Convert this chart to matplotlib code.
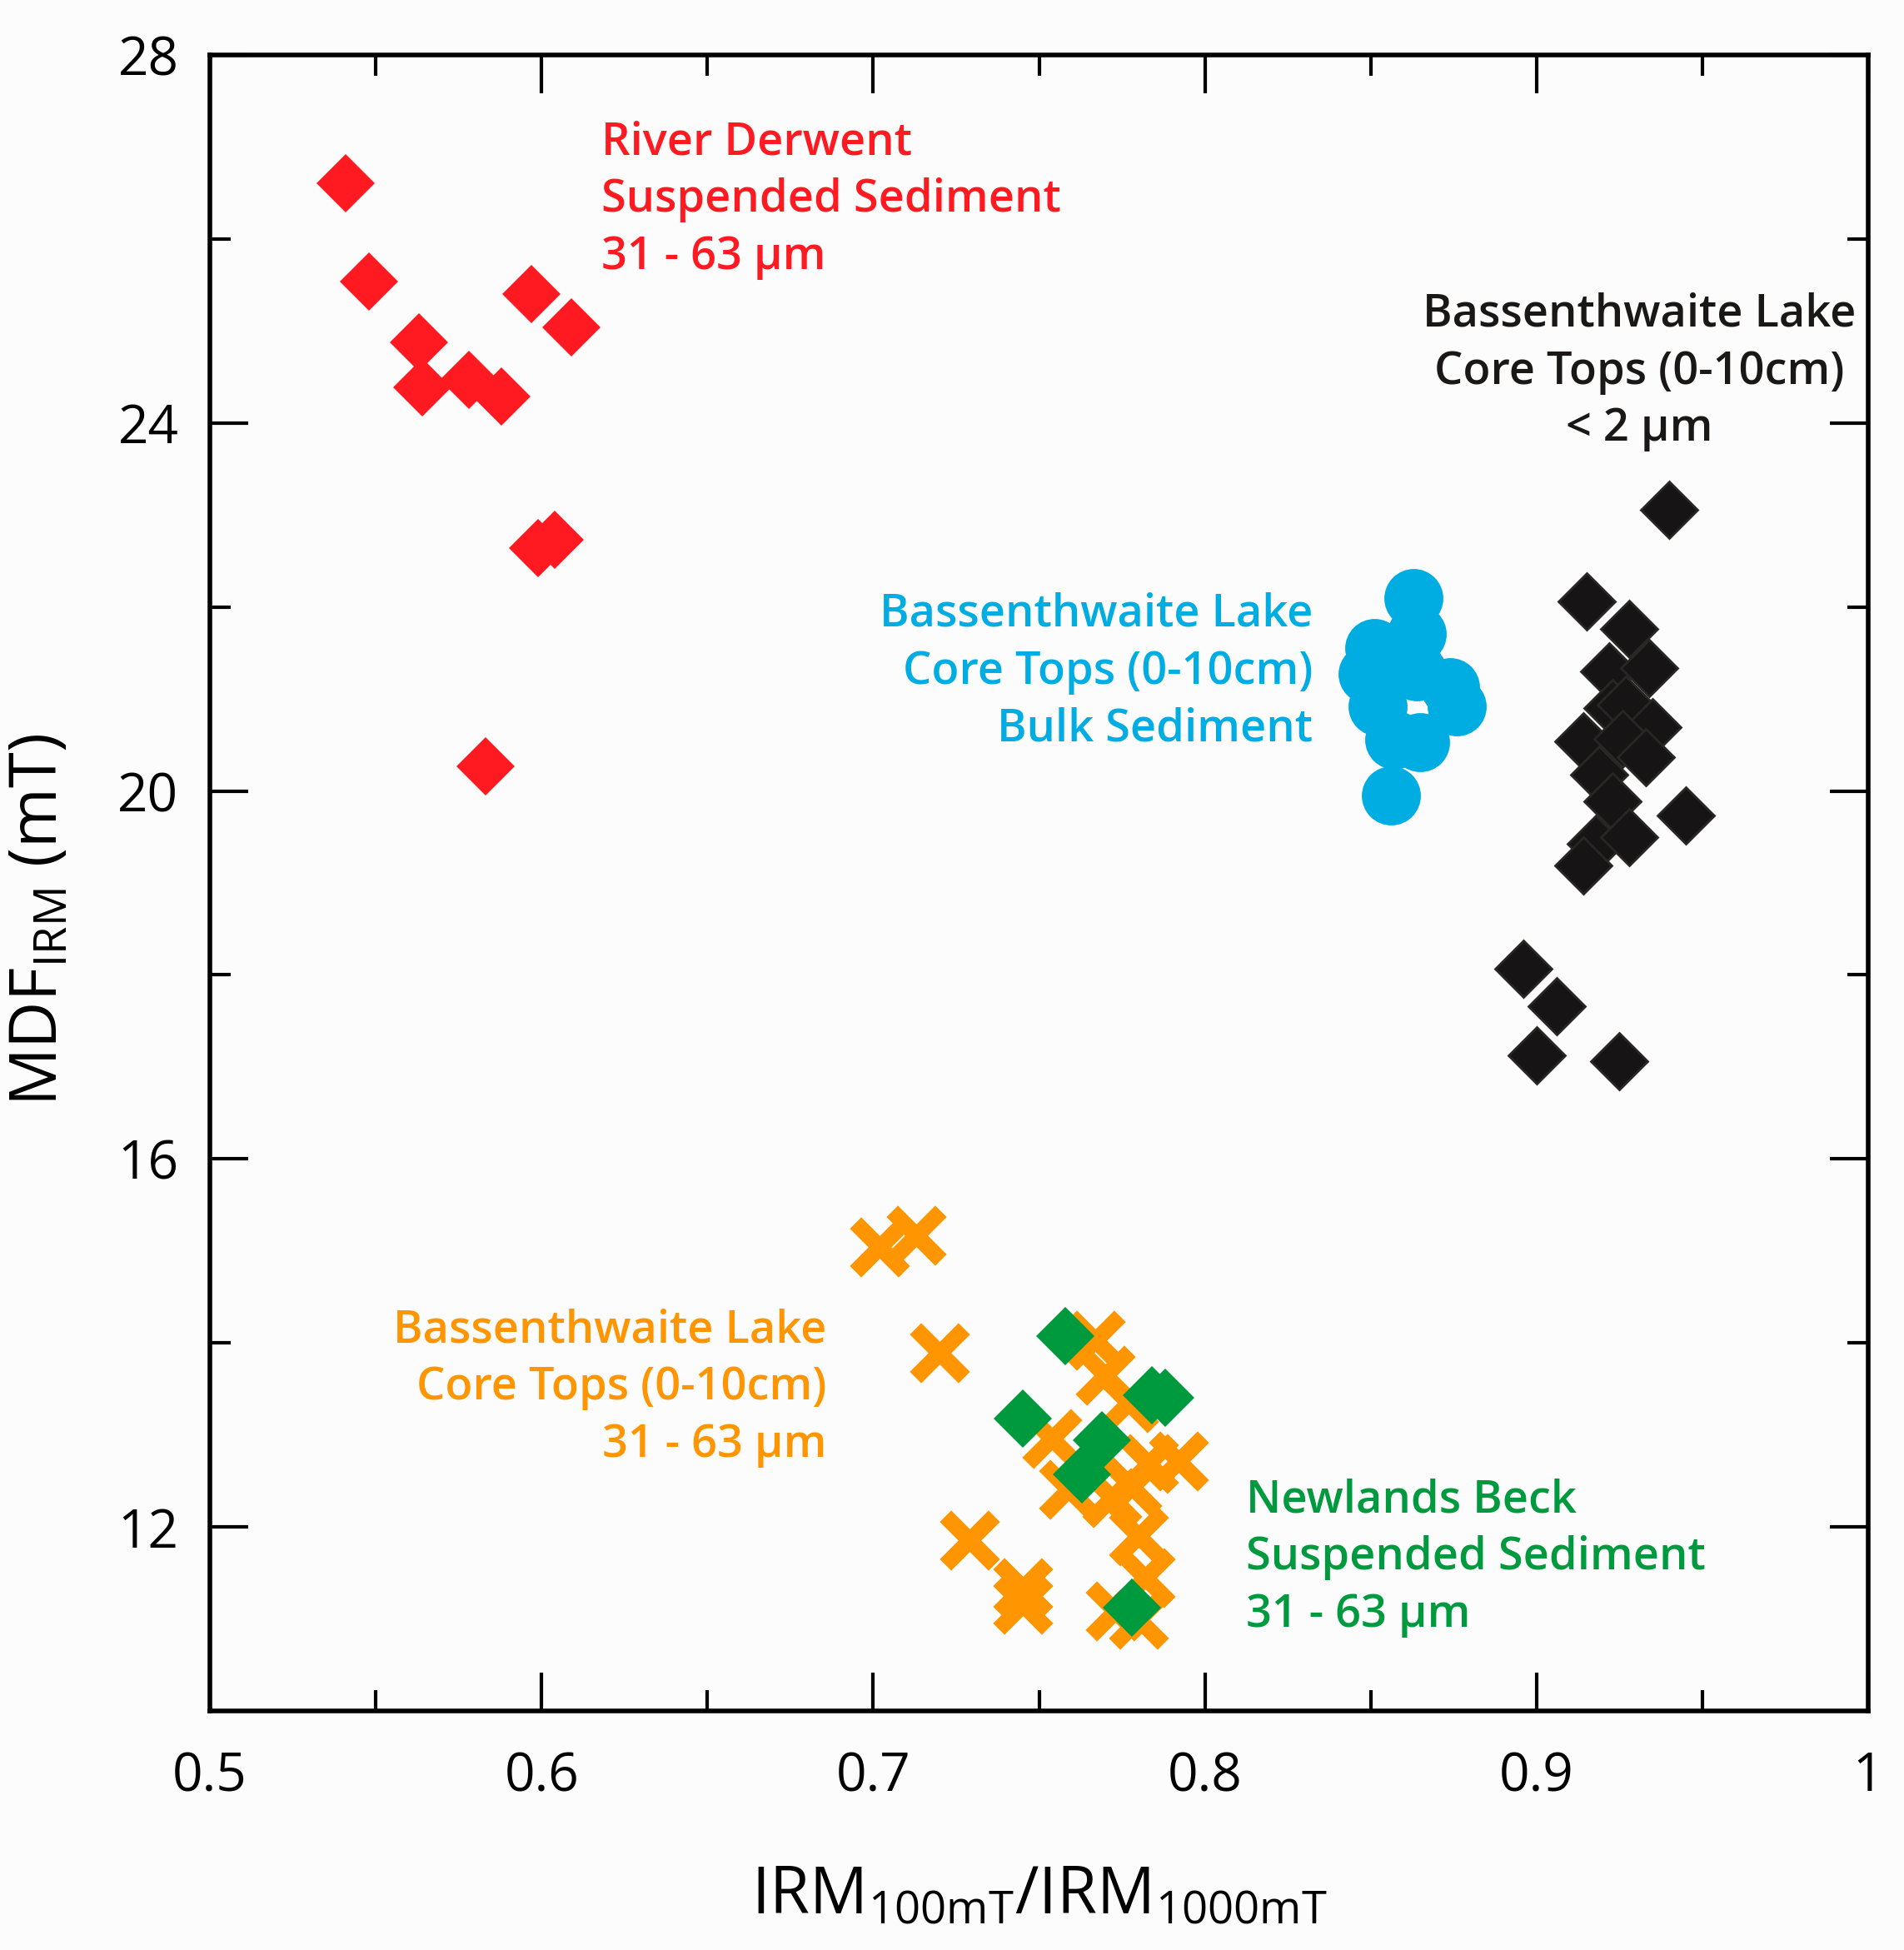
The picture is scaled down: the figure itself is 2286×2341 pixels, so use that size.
import numpy as np
import matplotlib.pyplot as plt
from matplotlib.path import Path

# river derwent suspended sediment 31-63 um
red_x = [0.541, 0.548, 0.563, 0.564, 0.578, 0.588, 0.597, 0.609, 0.599, 0.604, 0.583]
red_y = [26.61, 25.54, 24.88, 24.39, 24.47, 24.29, 25.40, 25.04, 22.64, 22.73, 20.27]

# bassenthwaite core tops < 2 um
blk_x = [0.940, 0.915, 0.928, 0.922, 0.934, 0.923, 0.927, 0.935, 0.914, 0.926,
         0.933, 0.919, 0.923, 0.945, 0.918, 0.928, 0.914, 0.896, 0.906, 0.900, 0.925]
blk_y = [23.06, 22.06, 21.76, 21.30, 21.34, 20.90, 20.94, 20.69, 20.54, 20.57,
         20.37, 20.18, 19.89, 19.73, 19.43, 19.50, 19.19, 18.07, 17.66, 17.13, 17.06]

# bassenthwaite core tops bulk
blu_x = [0.863, 0.864, 0.864, 0.851, 0.849, 0.852, 0.874, 0.876, 0.857, 0.865, 0.856]
blu_y = [22.10, 21.71, 21.30, 21.55, 21.27, 20.92, 21.13, 20.92, 20.56, 20.53, 19.95]

# bassenthwaite core tops 31-63 um
org_x = [0.702, 0.713, 0.720, 0.767, 0.770, 0.777, 0.754, 0.759, 0.772, 0.792,
         0.783, 0.778, 0.780, 0.782, 0.773, 0.780, 0.745, 0.745, 0.729]
org_y = [15.04, 15.17, 13.89, 14.03, 13.65, 13.35, 12.96, 12.41, 12.32, 12.72,
         12.69, 12.44, 11.90, 11.45, 11.09, 11.00, 11.34, 11.16, 11.86]

# newlands beck suspended sediment
grn_x = [0.758, 0.784, 0.788, 0.745, 0.769, 0.763, 0.778]
grn_y = [14.07, 13.43, 13.40, 13.18, 12.94, 12.57, 11.12]

# thinner filled x than matplotlib's 'X'
a, b = 0.31, 0.5
c = b - a
xverts = [(-a, -b), (0, -c), (a, -b), (b, -a), (c, 0), (b, a), (a, b),
          (0, c), (-a, b), (-b, a), (-c, 0), (-b, -a), (-a, -b)]
xmark = Path(xverts, [Path.MOVETO] + [Path.LINETO] * 11 + [Path.CLOSEPOLY])

plt.rcParams['font.family'] = ['Open Sans', 'DejaVu Sans']
plt.rcParams['mathtext.fontset'] = 'custom'
plt.rcParams['mathtext.rm'] = 'Open Sans'

bg = '#fcfcfc'
fig = plt.figure(figsize=(22.86, 23.41), dpi=100, facecolor=bg)
ax = fig.add_axes([252/2286, 1-2054/2341, 1991/2286, 1988/2341])
ax.set_facecolor(bg)

ax.plot(red_x, red_y, 'D', ms=36, color='#ff1a22', mew=0)
ax.plot(org_x, org_y, ls='none', marker=xmark, ms=52, color='#ff9500', mew=0)
ax.plot(grn_x, grn_y, 'D', ms=36, color='#009a3e', mew=0)
ax.plot(blu_x, blu_y, 'o', ms=51, color='#00ade3', mew=0)
ax.plot(blk_x, blk_y, 'D', ms=35, color='#161414', mec='#2a2626', mew=2)

ax.set_xlim(0.5, 1.0)
ax.set_ylim(10, 28)
ax.set_xticks([0.5, 0.6, 0.7, 0.8, 0.9, 1.0])
ax.set_xticklabels(['0.5', '0.6', '0.7', '0.8', '0.9', '1'])
ax.set_xticks(np.arange(0.55, 1.0, 0.1), minor=True)
ax.set_yticks([12, 16, 20, 24, 28])
ax.set_yticks([14, 18, 22, 26], minor=True)
ax.tick_params(which='both', direction='in', top=True, right=True, width=3, labelsize=46, colors='black')
ax.tick_params(which='major', length=33)
ax.tick_params(which='minor', length=18)
ax.tick_params(axis='y', pad=27)
ax.tick_params(axis='x', pad=34)
for s in ax.spines.values():
    s.set_linewidth(4)

ts = dict(fontsize=39, fontweight='semibold', va='top', linespacing=1.36)
ax.text(0.618, 27.29, 'River Derwent\nSuspended Sediment\n31 - 63 µm', color='#ff1a22', ha='left', **ts)
ax.text(0.931, 25.42, 'Bassenthwaite Lake\nCore Tops (0-10cm)\n< 2 µm', color='#1a1717', ha='center', multialignment='center', **ts)
ax.text(0.8325, 22.16, 'Bassenthwaite Lake\nCore Tops (0-10cm)\nBulk Sediment', color='#00ade3', ha='right', multialignment='right', **ts)
ax.text(0.686, 14.38, 'Bassenthwaite Lake\nCore Tops (0-10cm)\n31 - 63 µm', color='#ff9500', ha='right', multialignment='right', **ts)
ax.text(0.8125, 12.53, 'Newlands Beck\nSuspended Sediment\n31 - 63 µm', color='#009a3e', ha='left', **ts)

fig.text(48/2286, 1-1105/2341, r'MDF$_{\mathregular{IRM}}$ (mT)', rotation=90, ha='center', va='center', fontsize=56)
fig.text(1248/2286, 1-2298/2341, r'IRM$_{\mathregular{100mT}}$/IRM$_{\mathregular{1000mT}}$', ha='center', va='baseline', fontsize=56)

plt.savefig('out.png', dpi=100, facecolor=bg)
